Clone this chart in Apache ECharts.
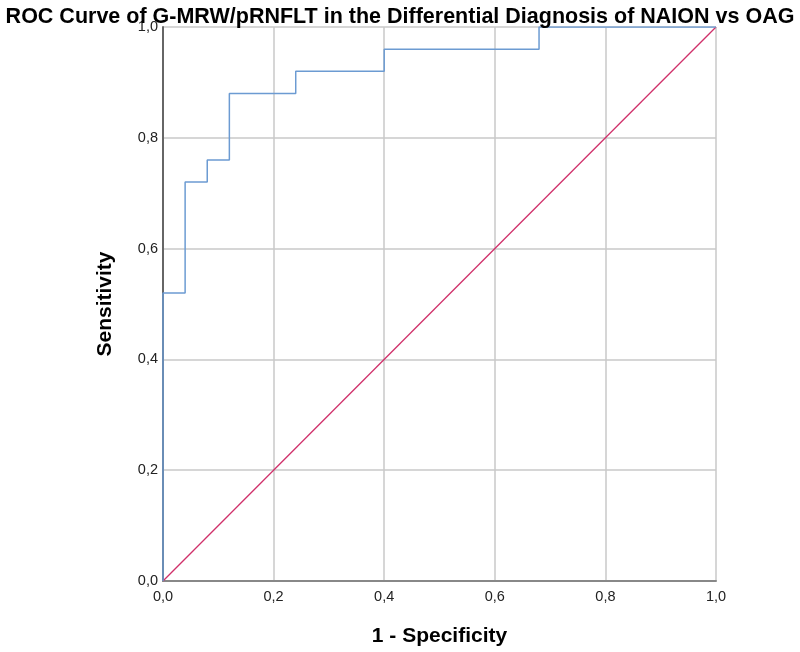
<!DOCTYPE html>
<html><head><meta charset="utf-8">
<script src="https://cdn.jsdelivr.net/npm/echarts@6/dist/echarts.min.js"></script>
<style>html,body{margin:0;padding:0;background:#fff}#c{width:800px;height:652px}</style>
</head><body><div id="c"></div>
<script>
const rocFPR = [0, 0, 0.04, 0.04, 0.08, 0.08, 0.12, 0.12, 0.24, 0.24, 0.40, 0.40, 0.68, 0.68, 1.0];
const rocTPR = [0, 0.52, 0.52, 0.72, 0.72, 0.76, 0.76, 0.88, 0.88, 0.92, 0.92, 0.96, 0.96, 1.0, 1.0];
const refX = [0, 1];
const refY = [0, 1];
const ticks = [0, 0.2, 0.4, 0.6, 0.8, 1.0];
const fmt = v => v.toFixed(1).replace('.', ',');
const chart = echarts.init(document.getElementById('c'));
const font = 'Liberation Sans, Arial, sans-serif';
chart.setOption({
  backgroundColor: '#fff',
  animation: false,
  title: {text: 'ROC Curve of G-MRW/pRNFLT in the Differential Diagnosis of NAION vs OAG', left: 'center', top: 1,
    textStyle: {fontFamily: font, fontSize: 21.5, fontWeight: 'bold', color: '#000'}},
  grid: {left: 163, right: 84, top: 27, bottom: 70},
  xAxis: {type: 'value', min: 0, max: 1, interval: 0.2,
    name: '1 - Specificity', nameLocation: 'middle', nameGap: 45,
    nameTextStyle: {fontFamily: font, fontSize: 21, fontWeight: 'bold', color: '#000'},
    axisLine: {lineStyle: {color: '#888', width: 2}}, axisTick: {show: false},
    axisLabel: {formatter: fmt, fontFamily: font, fontSize: 14.5, color: '#222', margin: 8},
    splitLine: {show: true, lineStyle: {color: '#c8c8c8', width: 1.5}}},
  yAxis: {type: 'value', min: 0, max: 1, interval: 0.2,
    name: 'Sensitivity', nameLocation: 'middle', nameGap: 47, nameRotate: 90,
    nameTextStyle: {fontFamily: font, fontSize: 21, fontWeight: 'bold', color: '#000'},
    axisLine: {show: true, lineStyle: {color: '#666', width: 2}}, axisTick: {show: false},
    axisLabel: {formatter: fmt, fontFamily: font, fontSize: 14.5, color: '#222', margin: 5},
    splitLine: {show: true, lineStyle: {color: '#c8c8c8', width: 1.5}}},
  series: [
    {type: 'line', data: refX.map((x, i) => [x, refY[i]]), symbol: 'none',
      lineStyle: {color: '#d0306a', width: 1.3}, z: 3},
    {type: 'line', data: rocFPR.map((x, i) => [x, rocTPR[i]]), symbol: 'none',
      lineStyle: {color: '#6c9bd2', width: 1.5}, z: 4}
  ]
});
</script></body></html>
